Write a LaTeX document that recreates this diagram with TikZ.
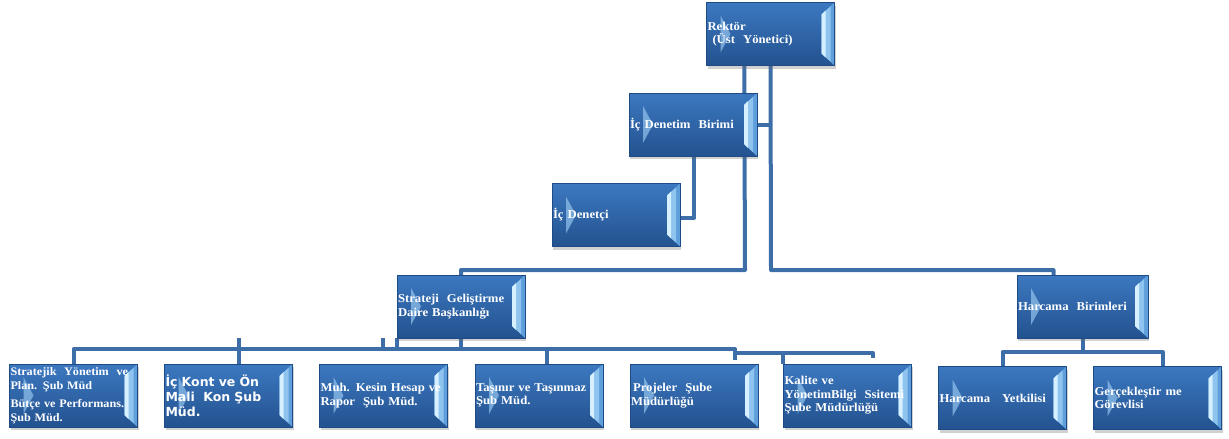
\documentclass[tikz,border=0pt]{standalone}
\usepackage{fontspec}
\newfontfamily\boxserif[FakeStretch=1.06]{Liberation Serif}
\newfontfamily\boxsans{DejaVu Sans}
\usetikzlibrary{shadows,backgrounds}
\definecolor{boxtop}{HTML}{3C78C0}
\definecolor{boxbot}{HTML}{23528F}
\definecolor{boxedge}{HTML}{1E4A85}
\definecolor{bevlight}{HTML}{D6F0FF}
\definecolor{bevmid}{HTML}{8EC4EE}
\definecolor{bevdark}{HTML}{5F9FDC}
\definecolor{trilight}{HTML}{9BCBF3}
\definecolor{conncol}{HTML}{3E6EA8}
\tikzset{
  orgbox/.style={rectangle, minimum width=128pt, minimum height=63pt,
    text width=126pt, inner xsep=1pt, inner ysep=0pt, align=left,
    text=white, font=\boxserif\bfseries\fontsize{12}{13.5}\selectfont,
    top color=boxtop, bottom color=boxbot, draw=boxedge, line width=0.5pt,
    drop shadow={shadow xshift=1pt, shadow yshift=-3pt, opacity=0.3, fill=black!60},
    path picture={
      \fill[bevdark]
        (path picture bounding box.north east)
        -- ([xshift=-13pt,yshift=-12pt]path picture bounding box.north east)
        -- ([xshift=-13pt,yshift=12pt]path picture bounding box.south east)
        -- (path picture bounding box.south east) -- cycle;
      \fill[bevmid]
        ([xshift=-4pt,yshift=-4pt]path picture bounding box.north east)
        -- ([xshift=-13pt,yshift=-12pt]path picture bounding box.north east)
        -- ([xshift=-13pt,yshift=12pt]path picture bounding box.south east)
        -- ([xshift=-4pt,yshift=4pt]path picture bounding box.south east) -- cycle;
      \fill[bevlight]
        ([xshift=-9pt,yshift=-8pt]path picture bounding box.north east)
        -- ([xshift=-13pt,yshift=-12pt]path picture bounding box.north east)
        -- ([xshift=-13pt,yshift=12pt]path picture bounding box.south east)
        -- ([xshift=-9pt,yshift=8pt]path picture bounding box.south east) -- cycle;
      \fill[trilight, opacity=0.65]
        ([xshift=14pt,yshift=-13pt]path picture bounding box.north west)
        -- ([xshift=24pt]path picture bounding box.west)
        -- ([xshift=14pt,yshift=13pt]path picture bounding box.south west) -- cycle;
    }},
  widebox/.style={orgbox, minimum width=131pt, text width=129pt},
  conn/.style={draw=conncol, line width=4pt, line join=round}
}
\begin{document}
\begin{tikzpicture}[x=1pt,y=-1pt]
\useasboundingbox (0,0) rectangle (1229,439);
% boxes
\node[orgbox] (rektor) at (770.5,34) {Rektör\\\hspace*{5pt}(Üst\ \ Yönetici)};
\node[orgbox] (icden) at (693,124.5) {İç Denetim\ \ Birimi};
\node[orgbox] (icdc) at (616,215) {İç Denetçi};
\node[orgbox] (strat) at (461,306.5) {Strateji\ \ Geliştirme\\Daire Başkanlığı};
\node[widebox] (harc) at (1082.5,306.5) {Harcama\ \ Birimleri};
\node[orgbox, font=\boxserif\bfseries\fontsize{11.5}{14}\selectfont] (b1) at (73.5,395.5)
  {Stratejik\ \ Yönetim\ \ ve\\Plan. Şub Müd\\[3.5pt]Bütçe ve Performans.\\Şub Müd.};
\node[orgbox, font=\boxsans\bfseries\fontsize{12.5}{15}\selectfont] (b2) at (228.5,395.5)
  {İç Kont ve Ön\\Mali\ \ Kon Şub\\Müd.};
\node[orgbox] (b3) at (383.5,395.5) {Muh. Kesin Hesap ve\\Rapor\ \ Şub Müd.};
\node[orgbox] (b4) at (539,395.5) {Taşınır ve Taşınmaz\\Şub Müd.};
\node[orgbox] (b5) at (694,395.5) {\hspace*{2pt}Projeler\ \ Şube\\Müdürlüğü};
\node[orgbox] (b6) at (847.5,395.5) {Kalite ve\\YönetimBilgi\ \ Ssitemi\\Şube Müdürlüğü};
\node[orgbox] (hy) at (1002.5,398) {Harcama\hspace{12pt}Yetkilisi};
\node[orgbox] (gv) at (1157.5,398) {Gerçekleştir me\\Görevlisi};
% bend points
\coordinate (kL) at (745,270);
\coordinate (kR) at (771,270);
\coordinate (busA) at (0,349);
\coordinate (busB) at (0,353);
\coordinate (t5) at (735,360);
\coordinate (t6) at (873,358);
\coordinate (hb) at (0,352);
\begin{scope}[on background layer]
  \draw[conn] ([xshift=38pt]rektor.south west) -- (kL) -| (strat.north);
  \draw[conn] (rektor.south) -- (kR) -| ([xshift=-29pt]harc.north);
  \draw[conn] (icden.east) -- (icden.east -| rektor.south);
  \draw[conn] ([xshift=65pt]icden.south west) |- ([yshift=-3pt]icdc.east);
  % Strateji bus
  \draw[conn] (strat.south) -- (strat.south |- busA);
  \draw[conn] (b1.north) |- (t5 |- busA) -- (t5);
  \draw[conn] ([xshift=10pt]b2.north) -- ([xshift=10pt]b2.north |- strat.south);
  \draw[conn] ([xshift=-14pt]strat.south west) -- ([xshift=-14pt]strat.south west |- busA);
  \draw[conn] (strat.south west) -- (strat.south west |- busA);
  \draw[conn] ([xshift=8pt]b4.north) -- ([xshift=8pt]b4.north |- busA);
  \draw[conn] (t5 |- busB) -- (t6 |- busB) -- (t6);
  \draw[conn] (b6.north west) -- (b6.north west |- busB);
  % Harcama bus
  \draw[conn] (harc.south) -- (harc.south |- hb);
  \draw[conn] (hy.north) |- ([xshift=5pt]gv.north |- hb) -- ([xshift=5pt]gv.north);
\end{scope}
\end{tikzpicture}
\end{document}
